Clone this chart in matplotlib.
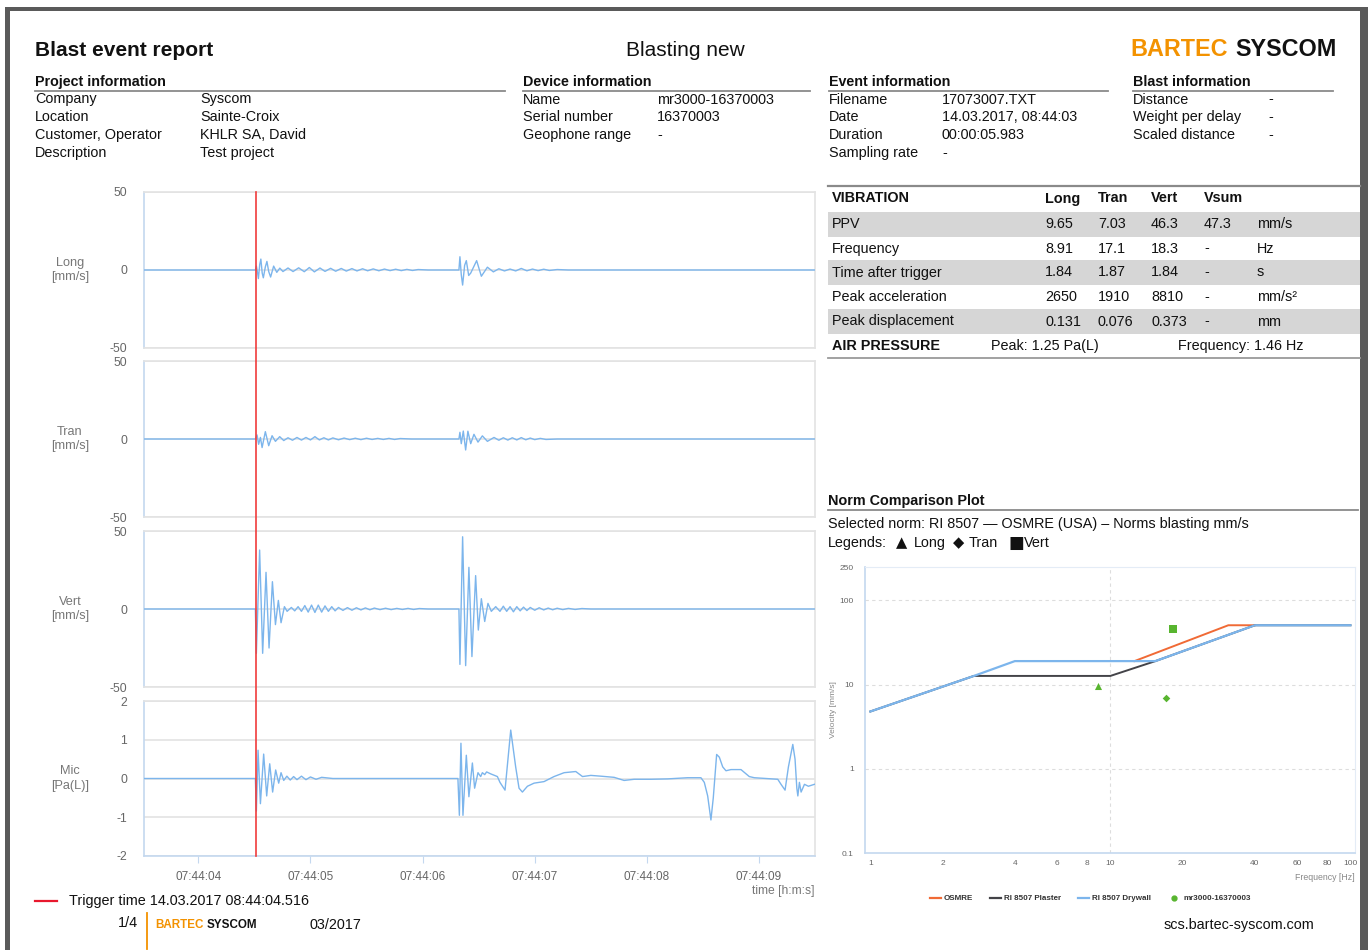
import matplotlib
matplotlib.use("Agg")
import matplotlib.pyplot as plt
import matplotlib.transforms as mtransforms
from matplotlib.lines import Line2D
from matplotlib.patches import Rectangle
from matplotlib.ticker import FixedLocator, NullLocator

plt.rcParams['font.family'] = ['Liberation Sans', 'DejaVu Sans']
plt.rcParams['axes.unicode_minus'] = False

W, H = 1368, 950

# ---------------- data ----------------
t_start, t_end = 3.516, 9.499
trigger_t = 4.516
time_ticks = [4, 5, 6, 7, 8, 9]
time_tick_labels = ["07:44:04", "07:44:05", "07:44:06", "07:44:07", "07:44:08", "07:44:09"]

long_t = [3.516, 4.509, 4.518, 4.527, 4.536, 4.548, 4.558, 4.570, 4.580, 4.598, 4.612, 4.628, 4.645,
          4.672, 4.700, 4.727, 4.755, 4.800, 4.845, 4.895, 4.945, 4.990, 5.035, 5.085, 5.130, 5.180,
          5.225, 5.275, 5.320, 5.370, 5.415, 5.465, 5.510, 5.560, 5.610, 5.660, 5.710, 5.760, 5.810,
          5.860, 5.910, 5.960, 6.050, 6.324, 6.333, 6.345, 6.357, 6.375, 6.390, 6.411, 6.429, 6.482,
          6.524, 6.578, 6.631, 6.680, 6.730, 6.780, 6.830, 6.880, 6.930, 6.980, 7.030, 7.080, 7.130,
          7.200, 7.300, 9.499]
long_v = [0, 0, 2.5, -1.0, -5.5, 3.5, 7.0, -2.0, -5.0, 2.0, 5.5, -1.0, -4.5,
          2.5, -1.5, 1.2, -1.0, 1.3, -1.0, 1.4, -1.1, 1.6, -1.2, 1.3, -0.9, 1.1,
          -0.8, 1.0, -0.7, 0.9, -0.6, 0.8, -0.5, 0.7, -0.5, 0.6, -0.4, 0.5, -0.4,
          0.4, -0.3, 0.3, 0, 0, 8.5, -3.0, -9.65, 3.0, 6.0, -3.5, -2.0, 6.0,
          -4.0, 1.8, -1.2, 0.8, -0.6, 0.6, -0.6, 1.0, -0.5, 0.6, -0.4, 0.5, -0.3,
          0.3, 0, 0]

tran_t = [3.516, 4.509, 4.524, 4.538, 4.554, 4.569, 4.598, 4.628, 4.658, 4.688, 4.726, 4.762,
          4.80, 4.84, 4.88, 4.92, 4.96, 5.00, 5.04, 5.08, 5.12, 5.16, 5.20, 5.25, 5.30, 5.35,
          5.40, 5.45, 5.50, 5.55, 5.60, 5.65, 5.70, 5.75, 5.80, 5.90, 6.324, 6.333, 6.345, 6.363,
          6.384, 6.404, 6.429, 6.458, 6.494, 6.533, 6.578, 6.637, 6.68, 6.72, 6.76, 6.80, 6.84,
          6.88, 6.92, 6.96, 7.00, 7.05, 7.10, 7.20, 9.499]
tran_v = [0, 0, 2.6, -3.4, 1.0, -5.5, 4.7, -4.3, 2.1, -1.5, 1.5, -1.0,
          0.8, -0.8, 1.0, -0.7, 1.0, -0.6, 1.5, -0.6, 0.8, -0.6, 0.7, -0.5, 0.6, -0.4,
          0.5, -0.4, 0.5, -0.3, 0.4, -0.3, 0.4, -0.3, 0.3, 0.0, 0, 4.3, -3.0, 5.1,
          -7.03, 5.0, -3.0, 3.0, -2.0, 2.0, -1.5, 1.0, -0.8, 0.8, -0.7, 0.8, -0.6,
          0.9, -0.5, 0.6, -0.4, 0.4, -0.3, 0, 0]

vert_t = [3.516, 4.509, 4.518, 4.547, 4.574, 4.604, 4.631, 4.661, 4.688, 4.714, 4.738, 4.768,
          4.792, 4.83, 4.86, 4.89, 4.92, 4.95, 4.98, 5.01, 5.04, 5.07, 5.10, 5.13, 5.16, 5.19,
          5.22, 5.25, 5.29, 5.33, 5.37, 5.41, 5.45, 5.49, 5.53, 5.57, 5.62, 5.67, 5.72, 5.77,
          5.82, 5.87, 5.92, 5.97, 6.05, 6.324, 6.333, 6.357, 6.384, 6.413, 6.440, 6.473, 6.497,
          6.524, 6.554, 6.583, 6.613, 6.652, 6.69, 6.72, 6.75, 6.78, 6.81, 6.84, 6.87, 6.90,
          6.93, 6.96, 7.00, 7.04, 7.08, 7.12, 7.16, 7.20, 7.25, 7.30, 7.36, 7.42, 7.50, 9.499]
vert_v = [0, 0, -28.4, 37.8, -28.4, 23.5, -25.0, 17.5, -10.0, 5.5, -8.8, 1.5,
          -1.5, 1.0, -1.2, 1.5, -1.5, 2.2, -2.0, 2.5, -2.2, 2.5, -2.0, 2.0, -1.5, 1.5,
          -1.2, 1.0, -0.9, 0.9, -0.8, 0.8, -0.6, 0.7, -0.5, 0.6, -0.4, 0.5, -0.4, 0.4,
          -0.3, 0.4, -0.3, 0.3, 0, 0, -35.5, 46.3, -36.3, 26.7, -30.5, 21.4, -13.5,
          6.6, -8.0, 3.6, -1.5, 1.5, -1.5, 1.8, -1.5, 1.5, -1.8, 1.5, -1.2, 1.2,
          -1.0, 1.0, -0.8, 0.8, -0.6, 0.6, -0.5, 0.5, -0.4, 0.4, -0.3, 0.3, 0, 0]

mic_t = [3.516, 4.509, 4.518, 4.533, 4.554, 4.583, 4.610, 4.637, 4.663, 4.690, 4.717, 4.738,
         4.762, 4.79, 4.82, 4.85, 4.88, 4.92, 4.96, 5.00, 5.05, 5.10, 5.20, 6.315, 6.328, 6.342,
         6.360, 6.390, 6.413, 6.444, 6.464, 6.494, 6.518, 6.533, 6.554, 6.571, 6.607, 6.667,
         6.690, 6.735, 6.786, 6.830, 6.860, 6.890, 6.935, 6.994, 7.083, 7.172, 7.262, 7.366,
         7.426, 7.500, 7.589, 7.708, 7.797, 7.887, 8.036, 8.185, 8.363, 8.482, 8.512, 8.542,
         8.571, 8.592, 8.622, 8.646, 8.676, 8.705, 8.750, 8.839, 8.913, 8.958, 9.063, 9.167,
         9.196, 9.232, 9.262, 9.301, 9.321, 9.337, 9.346, 9.360, 9.375, 9.405, 9.440, 9.494]
mic_v = [0, 0, -0.84, 0.73, -0.65, 0.63, -0.45, 0.38, -0.35, 0.22, -0.12, 0.15,
         -0.05, 0.06, -0.04, 0.05, -0.03, 0.06, -0.03, 0.04, -0.02, 0.03, 0.0, 0, -0.95, 0.91,
         -0.95, 0.60, -0.47, 0.40, -0.25, 0.15, 0.05, 0.15, 0.10, 0.17, 0.12, 0.05,
         -0.10, -0.30, 1.25, 0.30, -0.25, -0.35, -0.20, -0.12, -0.08, 0.05, 0.15, 0.18,
         0.05, 0.08, 0.06, 0.03, -0.05, -0.02, -0.02, -0.01, 0.02, 0.02, -0.10, -0.45,
         -1.07, -0.50, 0.62, 0.55, 0.30, 0.20, 0.23, 0.23, 0.05, 0.02, 0.0, -0.02,
         -0.15, -0.30, 0.30, 0.88, 0.50, -0.25, -0.45, -0.10, -0.35, -0.15, -0.20, -0.15]

channels = ["Long", "Tran", "Vert", "Mic"]
units = ["[mm/s]", "[mm/s]", "[mm/s]", "[Pa(L)]"]
vib_ticks = [-50, 0, 50]
mic_ticks = [-2, -1, 0, 1, 2]

# norm comparison
osmre_f = [12.6, 31, 40]
osmre_v = [19.05, 50.8, 50.8]
plaster_f = [1, 2.7, 10, 15.4, 40, 100]
plaster_v = [4.8, 12.7, 12.7, 19.05, 50.8, 50.8]
drywall_f = [1, 2.7, 4, 15.4, 40, 100]
drywall_v = [4.8, 12.7, 19.05, 19.05, 50.8, 50.8]
meas_freq = [8.91, 17.1, 18.3]
meas_ppv = [9.65, 7.03, 46.3]
meas_markers = ["^", "D", "s"]
norm_xticks = [1, 2, 4, 6, 8, 10, 20, 40, 60, 80, 100]
norm_yticks = [0.1, 1, 10, 100, 250]

# vibration table
vib_cols = ["Long", "Tran", "Vert", "Vsum", ""]
vib_rows = ["PPV", "Frequency", "Time after trigger", "Peak acceleration", "Peak displacement"]
vib_vals = [["9.65", "7.03", "46.3", "47.3", "mm/s"],
            ["8.91", "17.1", "18.3", "-", "Hz"],
            ["1.84", "1.87", "1.84", "-", "s"],
            ["2650", "1910", "8810", "-", "mm/s²"],
            ["0.131", "0.076", "0.373", "-", "mm"]]

project_info = [("Company", "Syscom"), ("Location", "Sainte-Croix"),
                ("Customer, Operator", "KHLR SA, David"), ("Description", "Test project")]
device_info = [("Name", "mr3000-16370003"), ("Serial number", "16370003"), ("Geophone range", "-")]
event_info = [("Filename", "17073007.TXT"), ("Date", "14.03.2017, 08:44:03"),
              ("Duration", "00:00:05.983"), ("Sampling rate", "-")]
blast_info = [("Distance", "-"), ("Weight per delay", "-"), ("Scaled distance", "-")]

# ---------------- figure ----------------
fig = plt.figure(figsize=(W / 100, H / 100), dpi=100)
fig.patch.set_facecolor("white")
BODY = 10.4


def fx(x):
    return x / W


def fy(y):
    return 1 - y / H


def ftext(x, y, s, **kw):
    kw.setdefault("va", "center")
    kw.setdefault("ha", "left")
    kw.setdefault("fontsize", BODY)
    kw.setdefault("color", "#111111")
    return fig.text(fx(x), fy(y), s, **kw)


def fline(x0, x1, y0, y1, color="#888888", lw=1.0):
    fig.add_artist(Line2D([fx(x0), fx(x1)], [fy(y0), fy(y1)], color=color, lw=lw,
                          transform=fig.transFigure))


def frect(x0, y0, x1, y1, color, z=0):
    fig.add_artist(Rectangle((fx(x0), fy(y1)), fx(x1 - x0), (y1 - y0) / H, color=color,
                             transform=fig.transFigure, zorder=z, lw=0))


# page frame
frame_col = "#5a5a5a"
frect(5, 7, 10, 950, frame_col)
frect(5, 7, 1368, 11, frame_col)
frect(1360, 7, 1368, 950, frame_col)

# header
ftext(35, 50, "Blast event report", fontsize=15, fontweight="bold")
ftext(685, 50, "Blasting new", fontsize=15, ha="center")
ftext(1130, 50, "BARTEC", fontsize=16.8, fontweight="bold", color="#f39200")
ftext(1337, 50, "SYSCOM", fontsize=16.8, fontweight="bold", color="#111111", ha="right")

sections = [("Project information", 35, 505, 200, project_info),
            ("Device information", 523, 810, 657, device_info),
            ("Event information", 829, 1108, 942, event_info),
            ("Blast information", 1133, 1333, 1268, blast_info)]
for title, x0, x1, xv, rows in sections:
    ftext(x0, 82, title, fontweight="bold", fontsize=10.3)
    fline(x0, x1, 90.5, 90.5, color="#8a8a8a", lw=1.3)
    for i, (lab, val) in enumerate(rows):
        yy = 99.5 + i * 17.8
        ftext(x0, yy, lab)
        ftext(xv, yy, val)

# vibration table
fline(828, 1360, 185.5, 185.5, color="#8a8a8a", lw=1.6)
row_y = [224, 248.5, 272.5, 297, 321.5]
for i, y in enumerate(row_y):
    if i % 2 == 0:
        frect(828, y - 12.5, 1360, y + 12.5, "#d6d6d6")
col_x = [1045, 1098, 1151, 1204, 1257]
ftext(832, 198.5, "VIBRATION", fontweight="bold")
for cx, c in zip(col_x, vib_cols):
    ftext(cx, 198.5, c, fontweight="bold")
for y, lab, vals in zip(row_y, vib_rows, vib_vals):
    ftext(832, y, lab)
    for cx, v in zip(col_x, vals):
        ftext(cx, y, v)
ftext(832, 346, "AIR PRESSURE", fontweight="bold")
ftext(991, 346, "Peak: 1.25 Pa(L)")
ftext(1178, 346, "Frequency: 1.46 Hz")
fline(828, 1360, 358, 358, color="#9a9a9a", lw=1.3)

# norm comparison header
ftext(828, 501, "Norm Comparison Plot", fontweight="bold")
fline(828, 1358, 509.5, 509.5, color="#8a8a8a", lw=1.3)
ftext(828, 524, "Selected norm: RI 8507 \u2014 OSMRE (USA) \u2013 Norms blasting mm/s")
ftext(828, 543, "Legends:")
sym_font = ['DejaVu Sans']
ftext(896, 543, "\u25B2", family=sym_font, fontsize=10.5)
ftext(914, 543, "Long")
ftext(953, 543, "\u25C6", family=sym_font, fontsize=10.5)
ftext(969, 543, "Tran")
ftext(1008, 543, "\u25A0", family=sym_font, fontsize=12)
ftext(1024, 543, "Vert")

# ---------------- waveform panels ----------------
series_t = [long_t, tran_t, vert_t, mic_t]
series_v = [long_v, tran_v, vert_v, mic_v]
tops = [192, 361, 531, 701]
bots = [348, 517, 687, 856]
left_px, right_px = 144, 815
wave_color = "#7cb5ec"
grid_color = "#e3e3e3"
axes = []
for k in range(4):
    ax = fig.add_axes([fx(left_px), fy(bots[k]), fx(right_px - left_px), (bots[k] - tops[k]) / H])
    ax.set_facecolor("none")
    ax.plot(series_t[k], series_v[k], color=wave_color, lw=1.0, zorder=3)
    ax.set_xlim(t_start, t_end)
    if k < 3:
        ax.set_ylim(-50, 50)
        ax.yaxis.set_major_locator(FixedLocator(vib_ticks))
    else:
        ax.set_ylim(-2, 2)
        ax.yaxis.set_major_locator(FixedLocator(mic_ticks))
    ax.grid(axis="y", color=grid_color, lw=1.2)
    ax.set_axisbelow(True)
    for side in ["top", "right", "bottom"]:
        ax.spines[side].set_color(grid_color)
        ax.spines[side].set_linewidth(1.2)
    ax.spines["left"].set_color("#c4d8ef")
    ax.spines["left"].set_linewidth(1.2)
    ax.tick_params(axis="y", length=0, pad=12, labelsize=8.7, labelcolor="#666666")
    if k < 3:
        ax.xaxis.set_major_locator(NullLocator())
    else:
        ax.spines["bottom"].set_color("#c4d8ef")
        ax.xaxis.set_major_locator(FixedLocator(time_ticks))
        ax.set_xticklabels(time_tick_labels)
        ax.tick_params(axis="x", length=5, color="#c4d8ef", labelsize=8.5, labelcolor="#666666", pad=6)
    ftext(70, (tops[k] + bots[k]) / 2, channels[k] + "\n" + units[k], ha="center",
          fontsize=9.2, color="#777777", linespacing=1.3)
    axes.append(ax)

# trigger line across all panels
blend = mtransforms.blended_transform_factory(axes[0].transData, fig.transFigure)
fig.add_artist(Line2D([trigger_t, trigger_t], [fy(856), fy(192)], color="#f03c3c", lw=1.2,
                      transform=blend, zorder=5))

ftext(815, 891, "time [h:m:s]", ha="right", fontsize=8.7, color="#777777")

# ---------------- norm comparison plot ----------------
nax = fig.add_axes([fx(865), fy(853), fx(1355 - 865), (853 - 567) / H])
nax.set_xscale("log")
nax.set_yscale("log")
nax.plot(osmre_f, osmre_v, color="#f06a35", lw=1.4, zorder=3)
nax.plot(plaster_f, plaster_v, color="#434348", lw=1.4, zorder=4)
nax.plot(drywall_f, drywall_v, color="#7cb5ec", lw=1.6, zorder=5)
for f, v, m in zip(meas_freq, meas_ppv, meas_markers):
    nax.scatter([f], [v], marker=m, s=26 if m != "D" else 15, color="#58b52f", zorder=6, linewidths=0)
nax.set_xlim(0.95, 104.5)
nax.set_ylim(0.1, 250)
nax.xaxis.set_major_locator(FixedLocator(norm_xticks))
nax.xaxis.set_minor_locator(NullLocator())
nax.yaxis.set_major_locator(FixedLocator(norm_yticks))
nax.yaxis.set_minor_locator(NullLocator())
nax.set_xticklabels([str(v) for v in norm_xticks])
nax.set_yticklabels(["0.1", "1", "10", "100", "250"])
nax.tick_params(axis="both", length=0, labelsize=6, labelcolor="#666666")
nax.tick_params(axis="y", pad=8)
nax.tick_params(axis="x", pad=5)
for yv in [1, 10, 100]:
    nax.axhline(yv, color="#dddddd", lw=0.8, ls=(0, (3, 3)), zorder=1)
nax.axvline(10, color="#dddddd", lw=0.8, ls=(0, (3, 3)), zorder=1)
for side in ["top", "right"]:
    nax.spines[side].set_color("#e4ecf6")
for side in ["left", "bottom"]:
    nax.spines[side].set_color("#c4d8ef")
    nax.spines[side].set_linewidth(1.2)
nax.set_ylabel("Velocity [mm/s]", fontsize=6, color="#888888", labelpad=2)
ftext(1355, 877, "Frequency [Hz]", ha="right", fontsize=6.3, color="#888888")

# legend of norm plot
leg_items = [("OSMRE", "#f06a35", 930, "line"), ("RI 8507 Plaster", "#434348", 990, "line"),
             ("RI 8507 Drywall", "#7cb5ec", 1078, "line"), ("mr3000-16370003", "#58b52f", 1170, "dot")]
for name, col, lx, kind in leg_items:
    if kind == "line":
        fline(lx, lx + 11, 898, 898, color=col, lw=1.6)
        ftext(lx + 14, 898, name, fontsize=5.8, fontweight="bold", color="#333333")
    else:
        fig.add_artist(Line2D([fx(lx + 4)], [fy(898)], marker="o", ms=3.5, color=col,
                              transform=fig.transFigure))
        ftext(lx + 13, 898, name, fontsize=5.8, fontweight="bold", color="#333333")

# ---------------- footer ----------------
fline(35, 57, 901, 901, color="#e8182d", lw=1.6)
ftext(69, 901, "Trigger time 14.03.2017 08:44:04.516")
ftext(118, 923, "1/4")
fline(147, 147, 913, 949, color="#f39200", lw=1.3)
ftext(155, 925, "BARTEC", fontsize=8.4, fontweight="bold", color="#f39200")
ftext(257, 925, "SYSCOM", fontsize=8.4, fontweight="bold", color="#111111", ha="right")
ftext(309, 925, "03/2017")
ftext(1314, 925, "scs.bartec-syscom.com", ha="right")

fig.savefig("out.png", dpi=100, facecolor="white")
